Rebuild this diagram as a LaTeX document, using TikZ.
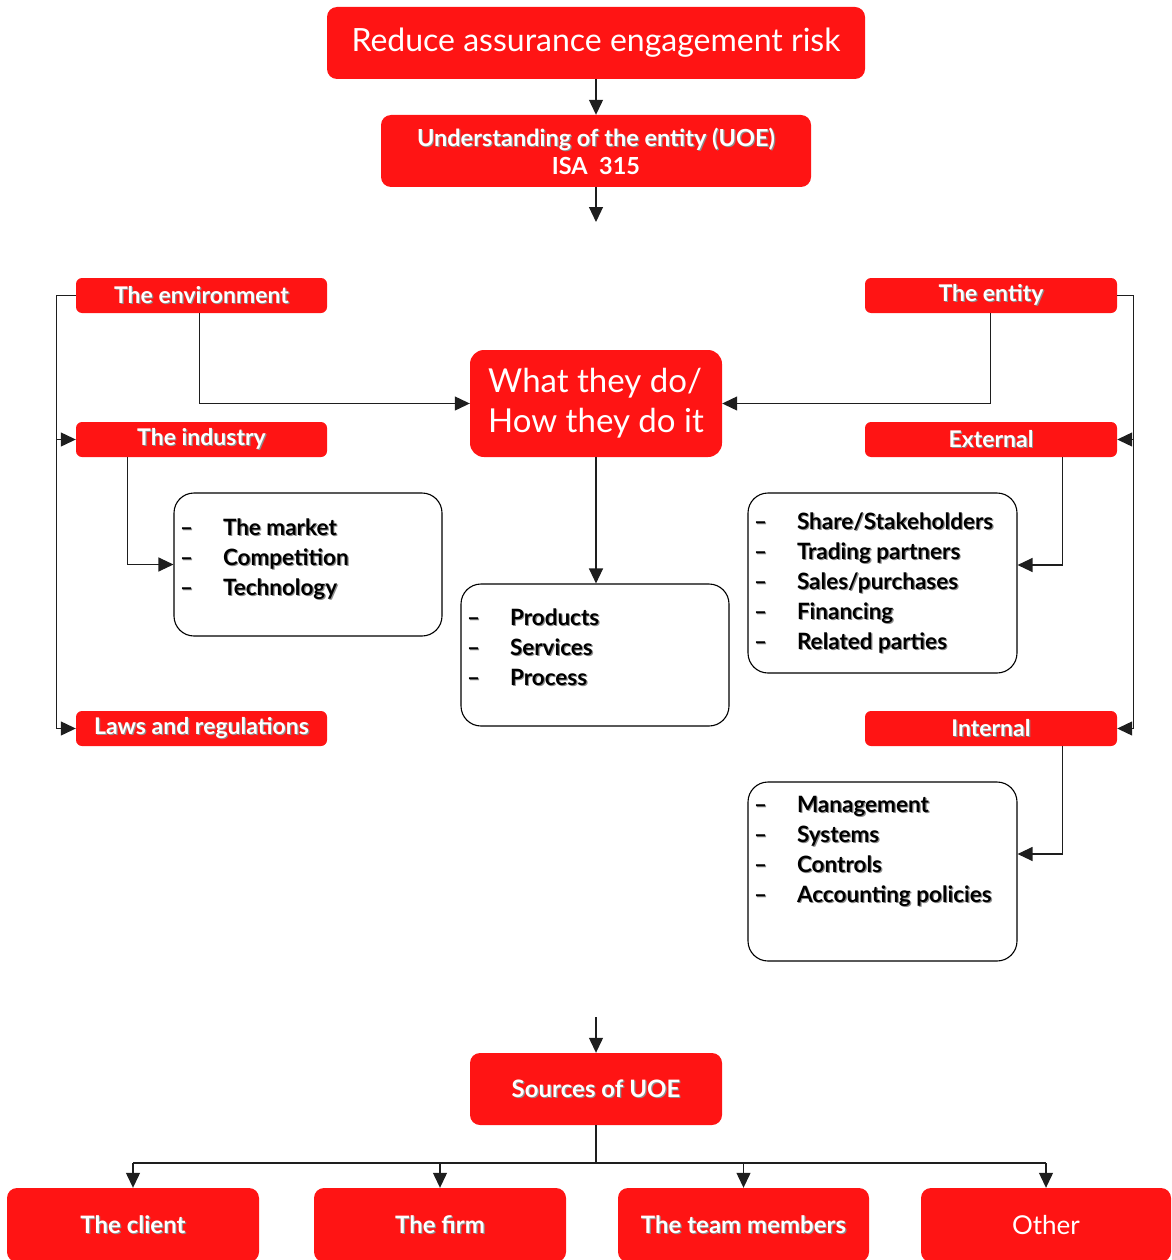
\documentclass[tikz,border=0pt]{standalone}
\usepackage{fontspec}
\setmainfont{Lato}
\usetikzlibrary{arrows.meta}

\definecolor{boxred}{RGB}{255,20,20}
\definecolor{wirecol}{RGB}{30,30,30}

% text with a soft drop shadow to the lower right
\newcommand\shd[2][black!45]{\leavevmode\rlap{\raisebox{-1.2pt}{\hspace{1.2pt}\textcolor{#1}{#2}}}#2}
% one bulleted line of a list panel
\newcommand\li[1]{\par\noindent\rule{0pt}{20pt}\hspace*{6pt}\makebox[43pt][l]{\shd{--}}\shd{#1}}
% list panel body: width, height, top gap, items
\newcommand\listpanel[4]{\parbox[c][#2][t]{#1}{\fontsize{22.5}{30}\selectfont\bfseries\vspace*{#3}#4}}

\tikzset{
  redbox/.style={fill=boxred, rounded corners=6pt, text=white, inner sep=0pt,
    align=center, font=\bfseries\fontsize{23}{25}\selectfont},
  bigred/.style={redbox, rounded corners=10pt},
  listbox/.style={draw=black, line width=1.1pt, rounded corners=20pt, fill=white,
    inner sep=0pt, text=black},
  wire/.style={draw=wirecol, line width=1.2pt},
  arr/.style={wire, -{Triangle[length=15pt,width=14pt]}},
}

\begin{document}
\begin{tikzpicture}[x=1pt, y=-1pt]
\useasboundingbox (0,0) rectangle (1171,1260);

% headline and standard
\node[bigred, minimum width=538pt, minimum height=72pt, font=\fontsize{32}{36}\selectfont]
  (top) at (596,43) {Reduce assurance engagement risk};
\node[bigred, minimum width=430pt, minimum height=72pt, font=\bfseries\fontsize{23.5}{28}\selectfont]
  (uoe) at (596,151) {\shd{Understanding of the entity (UOE)}\\ISA\ \ 315};
\coordinate (gap1) at (596,222);

% central question
\node[bigred, rounded corners=14pt, minimum width=252pt, minimum height=107pt, align=left,
  font=\fontsize{33}{40}\selectfont] (what) at (596,403.5) {What they do/\\How they do it};

% left column
\node[redbox, minimum width=251pt, minimum height=35pt] (env) at (201.5,295.5) {\shd{The environment}};
\node[redbox, minimum width=251pt, minimum height=35pt] (ind) at (201.5,439.5) {\shd{The industry}};
\node[redbox, minimum width=251pt, minimum height=35pt] (laws) at (201.5,728.5) {\shd{Laws and regulations}};
\node[listbox, minimum width=268pt, minimum height=143pt] (mkt) at (308,564.5)
  {\listpanel{268pt}{143pt}{22pt}{\li{The market}\li{Competition}\li{Technology}}};

% right column
\node[redbox, minimum width=252pt, minimum height=35pt] (ent) at (991,295.5) {\shd{The entity}};
\node[redbox, minimum width=252pt, minimum height=35pt] (ext) at (991,439.5) {\shd{External}};
\node[redbox, minimum width=252pt, minimum height=35pt] (int) at (991,728.5) {\shd{Internal}};
\node[listbox, minimum width=269pt, minimum height=180pt] (stk) at (882.5,583)
  {\listpanel{269pt}{180pt}{16pt}{\li{Share/Stakeholders}\li{Trading partners}\li{Sales/purchases}\li{Financing}\li{Related parties}}};
\node[listbox, minimum width=269pt, minimum height=179pt] (mgmt) at (882.5,871.5)
  {\listpanel{269pt}{179pt}{10pt}{\li{Management}\li{Systems}\li{Controls}\li{Accounting policies}}};

% centre list
\node[listbox, minimum width=268pt, minimum height=142pt] (prod) at (595,655)
  {\listpanel{268pt}{142pt}{21pt}{\li{Products}\li{Services}\li{Process}}};

% sources
\coordinate (gap2) at (596,1017);
\node[bigred, minimum width=252pt, minimum height=72pt, font=\bfseries\fontsize{24}{26}\selectfont]
  (src) at (596,1089) {\shd{Sources of UOE}};
\tikzset{srcbox/.style={bigred, minimum height=74pt, font=\bfseries\fontsize{24}{26}\selectfont}}
\node[srcbox, minimum width=252pt] (client) at (133,1225) {\shd{The client}};
\node[srcbox, minimum width=252pt] (firm) at (440,1225) {\shd{The firm}};
\node[srcbox, minimum width=251pt] (team) at (743.5,1225) {\shd{The team members}};
\node[srcbox, minimum width=250pt, font=\fontsize{26}{28}\selectfont]
  (other) at (1046,1225) {Other};

% connectors
\draw[arr] (top.south) -- (uoe.north);
\draw[arr] (uoe.south) -- (gap1);

\draw[arr] ([xshift=124pt]env.south west) |- (what.west);
\draw[arr] ([xshift=-127pt]ent.south east) |- (what.east);
\draw[arr] (what.south) -- (what.south |- prod.north);

\coordinate (lb) at ([xshift=-19pt]env.west);
\draw[arr] (env.west) -- (lb) |- (laws.west);
\draw[arr] (lb |- ind.west) -- (ind.west);
\draw[arr] ([xshift=52pt]ind.south west) |- (mkt.west);

\coordinate (rb) at ([xshift=16pt]ent.east);
\draw[arr] (ent.east) -- (rb) |- (int.east);
\draw[arr] (rb |- ext.east) -- (ext.east);
\draw[arr] ([xshift=-55pt]ext.south east) |- ([yshift=18pt]stk.east);
\draw[arr] ([xshift=-55pt]int.south east) |- ([yshift=17.5pt]mgmt.east);

\draw[arr] (gap2) -- (src.north);
\coordinate (bus) at (596,1163);
\draw[wire] (src.south) -- (bus);
\draw[wire] (bus -| client.north) -- (bus -| other.north);
\foreach \n in {client,firm,team,other}
  \draw[arr] (bus -| \n.north) -- (\n.north);
\end{tikzpicture}
\end{document}
